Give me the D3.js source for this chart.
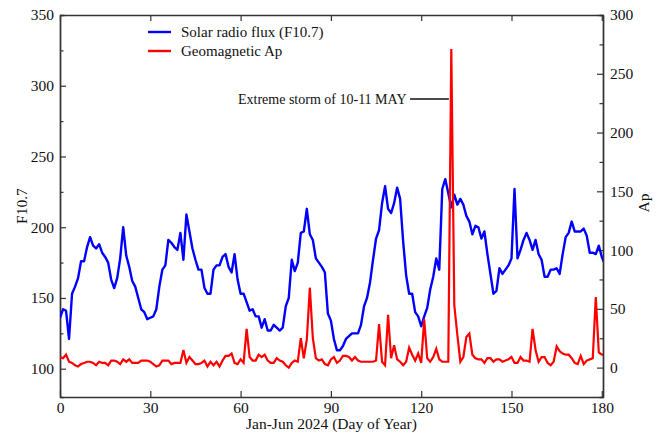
<!DOCTYPE html>
<html>
<head>
<meta charset="utf-8">
<script src="https://cdn.jsdelivr.net/npm/d3@7"></script>
<style>
  body { margin: 0; background: #fff; }
  svg text { font-family: "Liberation Serif", "Times New Roman", serif; fill: #111; }
</style>
</head>
<body>
<div id="chart"></div>
<script>
// daily values, day of year 0..181
const days = d3.range(0, 182);
const f107 = [136,142,141,121,153,158,164,176,176,186,193,187,185,188,182,179,175,163,157,164,
  178,200,180,172,162,158,150,142,140,135,136,137,142,158,170,173,191,189,186,184,
  196,177,209,197,185,177,170,170,157,153,153,170,173,173,179,181,172,168,181,163,
  153,153,147,141,142,137,137,129,135,127,127,131,129,127,129,144,150,177,169,175,
  196,197,213,195,191,178,175,172,168,139,134,121,113,113,116,121,123,125,125,125,
  131,144,150,161,177,192,198,217,229,213,210,217,228,220,190,166,153,153,140,137,
  130,137,143,156,165,178,170,227,234,224,214,223,216,220,216,208,204,195,201,200,
  192,197,181,167,153,155,171,167,170,173,178,227,178,184,191,196,191,184,191,181,
  177,165,165,170,170,171,167,181,193,196,204,197,197,197,199,194,182,182,181,187,
  179,174];
const ap = [9,8,11,5,4,2,1,3,4,5,5,4,2,5,4,4,2,6,6,5,
  3,7,5,7,4,4,4,6,6,6,5,3,1,2,6,6,6,3,4,4,
  4,15,4,9,6,3,3,4,6,1,5,2,5,1,6,10,10,12,4,3,
  7,4,33,9,6,6,11,9,11,6,4,4,8,6,5,2,0,4,6,5,
  25,8,24,68,25,8,6,7,3,2,7,9,4,6,10,10,9,6,9,6,
  5,5,5,5,5,6,37,5,2,45,8,19,7,5,2,5,17,11,6,12,
  4,41,8,5,9,16,7,5,5,5,271,53,28,5,9,26,29,11,8,7,
  7,4,8,8,5,7,7,5,6,7,9,4,4,9,6,6,5,33,15,5,
  9,9,4,2,5,18,14,12,11,11,8,4,3,10,3,6,7,8,60,13,
  11,11];
const xTicks = [0, 30, 60, 90, 120, 150, 180];
const fTicks = [100, 150, 200, 250, 300, 350];
const apTicks = [0, 50, 100, 150, 200, 250, 300];
const legendNames = ['Solar radio flux (F10.7)', 'Geomagnetic Ap'];
const legendColors = ['#0000ff', '#ff0000'];
const stormText = 'Extreme storm of 10-11 MAY';

const W = 665, H = 433;
const margin = {top: 15, right: 62, bottom: 36, left: 60};
const w = W - margin.left - margin.right;
const h = H - margin.top - margin.bottom;

const svg = d3.select('#chart').append('svg')
    .attr('width', W).attr('height', H);
const g = svg.append('g')
    .attr('transform', `translate(${margin.left},${margin.top})`);

const x = d3.scaleLinear().domain([0, 180.4]).range([0, w]);
const yF = d3.scaleLinear().domain([80, 350]).range([h, 0]);
const yA = d3.scaleLinear().domain([-25, 300]).range([h, 0]);

g.append('clipPath').attr('id', 'clip')
    .append('rect').attr('width', w).attr('height', h);

// minor ticks (every 25)
g.append('g').call(d3.axisLeft(yF).tickValues(d3.range(125, 350, 50)).tickSize(-3.5).tickFormat(''));
g.append('g').attr('transform', `translate(${w},0)`)
    .call(d3.axisRight(yA).tickValues(d3.range(25, 300, 50)).tickSize(-3.5).tickFormat(''));

// major axes, ticks pointing inward
g.append('g').attr('class', 'ax').attr('transform', `translate(0,${h})`)
    .call(d3.axisBottom(x).tickValues(xTicks).tickSize(-6).tickSizeOuter(0).tickPadding(5));
g.append('g').attr('class', 'ax')
    .call(d3.axisTop(x).tickValues(xTicks).tickSize(-6).tickSizeOuter(0).tickFormat(''));
g.append('g').attr('class', 'ax')
    .call(d3.axisLeft(yF).tickValues(fTicks).tickSize(-6).tickSizeOuter(0).tickPadding(6));
g.append('g').attr('class', 'ax').attr('transform', `translate(${w},0)`)
    .call(d3.axisRight(yA).tickValues(apTicks).tickSize(-6).tickSizeOuter(0).tickPadding(7));

g.selectAll('.domain').attr('stroke', '#333').attr('stroke-width', 1.4);
g.selectAll('.tick line').attr('stroke', '#333').attr('stroke-width', 1.2);
g.selectAll('.tick text').style('font-size', '15.5px').attr('fill', '#111');

// series
const lineF = d3.line().x((d, i) => x(days[i])).y(d => yF(d));
const lineA = d3.line().x((d, i) => x(days[i])).y(d => yA(d));

g.append('path').datum(f107)
    .attr('clip-path', 'url(#clip)')
    .attr('fill', 'none').attr('stroke', legendColors[0])
    .attr('stroke-width', 2.4).attr('stroke-linejoin', 'round')
    .attr('d', lineF);

g.append('path').datum(ap)
    .attr('clip-path', 'url(#clip)')
    .attr('fill', 'none').attr('stroke', legendColors[1])
    .attr('stroke-width', 2.2).attr('stroke-linejoin', 'miter')
    .attr('d', lineA);

// legend
let legend = g.selectAll('.leg')
    .data(legendNames)
    .enter().append('g')
    .attr('transform', (d, i) => `translate(88,${17 + i * 19})`);
legend.append('line')
    .attr('x1', 0).attr('x2', 23)
    .attr('stroke', (d, i) => legendColors[i]).attr('stroke-width', 2.4);
legend.append('text')
    .attr('x', 33).attr('y', 5)
    .style('font-size', '15px')
    .text(d => d);

// storm annotation
g.append('text')
    .attr('x', 178).attr('y', 89)
    .style('font-size', '14px')
    .text(stormText);
g.append('line')
    .attr('x1', 350).attr('x2', x(129.2))
    .attr('y1', 84).attr('y2', 84)
    .attr('stroke', '#111').attr('stroke-width', 1.5);

// axis titles
svg.append('text')
    .attr('transform', `translate(27,${margin.top + yF(215)}) rotate(-90)`)
    .attr('text-anchor', 'middle')
    .style('font-size', '15.5px')
    .text('F10.7');
svg.append('text')
    .attr('transform', `translate(649,${margin.top + yA(140)}) rotate(-90)`)
    .attr('text-anchor', 'middle')
    .style('font-size', '15.5px')
    .text('Ap');
svg.append('text')
    .attr('x', margin.left + w / 2).attr('y', 429)
    .attr('text-anchor', 'middle')
    .style('font-size', '15.5px')
    .text('Jan-Jun 2024 (Day of Year)');
</script>
</body>
</html>
